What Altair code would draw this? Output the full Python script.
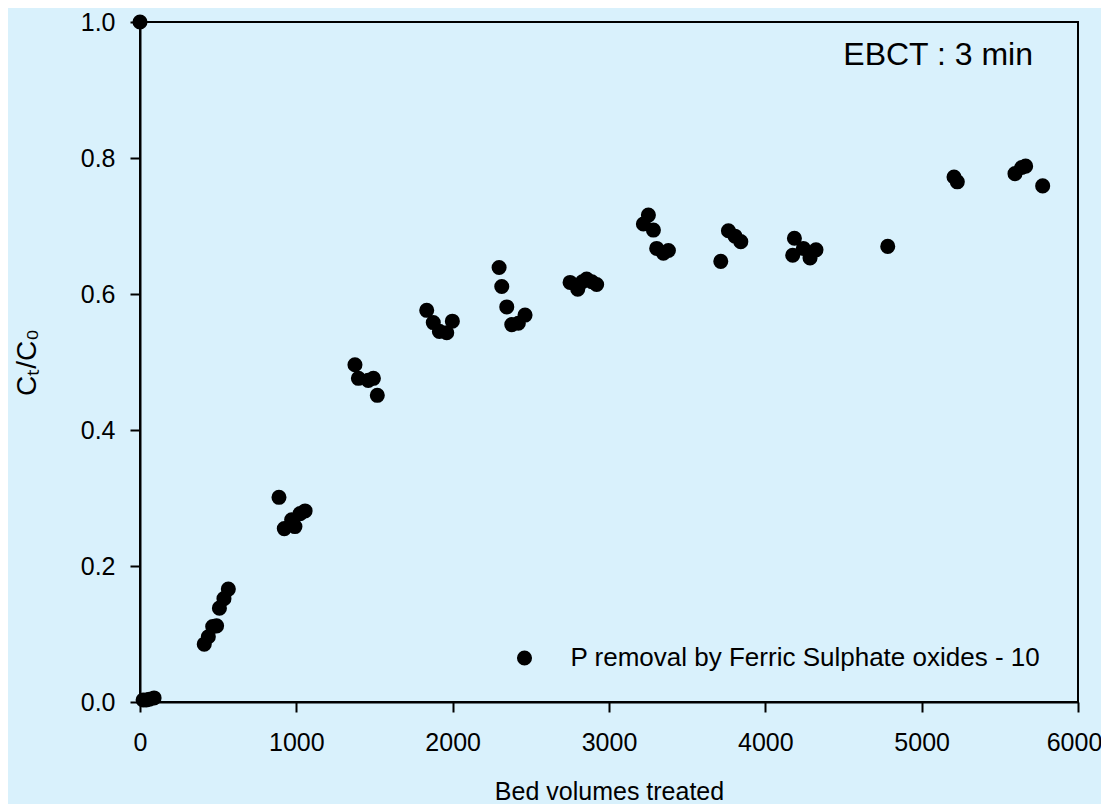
import altair as alt
import pandas as pd

bed_volumes = [0, 20, 40, 60, 90,
               411, 437, 465, 490, 508, 537, 565,
               889, 923, 970, 991, 1024, 1056,
               1375, 1397, 1460, 1493, 1518,
               1834, 1876, 1915, 1962, 1998,
               2297, 2314, 2346, 2378, 2420, 2463,
               2751, 2800, 2830, 2857, 2890, 2921,
               3220, 3252, 3284, 3305, 3348, 3380,
               3715, 3764, 3806, 3843,
               4175, 4186, 4243, 4286, 4324,
               4783,
               5207, 5228, 5597, 5640, 5665, 5774]
ct_c0 = [1.0, 0.003, 0.003, 0.004, 0.006,
         0.085, 0.096, 0.111, 0.112, 0.138, 0.152, 0.166,
         0.301, 0.255, 0.268, 0.258, 0.277, 0.281,
         0.496, 0.476, 0.473, 0.476, 0.451,
         0.576, 0.558, 0.545, 0.543, 0.560,
         0.639, 0.611, 0.581, 0.555, 0.557, 0.569,
         0.617, 0.607, 0.618, 0.622, 0.618, 0.614,
         0.703, 0.716, 0.694, 0.667, 0.660, 0.664,
         0.648, 0.693, 0.685, 0.677,
         0.657, 0.682, 0.667, 0.653, 0.665,
         0.670,
         0.772, 0.765, 0.777, 0.786, 0.788, 0.759]
series_name = "P removal by Ferric Sulphate oxides - 10"

x_ticks = [0, 1000, 2000, 3000, 4000, 5000, 6000]
y_ticks = [0.0, 0.2, 0.4, 0.6, 0.8, 1.0]

annot_text = ["EBCT : 3 min"]
annot_x = [5712]
annot_y = [0.951]

df = pd.DataFrame({"bv": bed_volumes, "c": ct_c0, "series": [series_name] * len(bed_volumes)})
ann = pd.DataFrame({"t": annot_text, "x": annot_x, "y": annot_y})

FONT = "Liberation Sans"
BG = "#D9F1FC"

x_scale = alt.Scale(domain=[0, 6000], nice=False, zero=False)
y_scale = alt.Scale(domain=[0, 1.0], nice=False, zero=False)

points = alt.Chart(df).mark_point(filled=True, size=227, opacity=1, shape="circle", clip=False).encode(
    x=alt.X("bv:Q", scale=x_scale,
            axis=alt.Axis(title="Bed volumes treated", values=x_ticks, format="d",
                          titleFontSize=25, titleFontWeight="normal", titleY=97,
                          titleBaseline="alphabetic",
                          labelPadding=18, labelFlush=False, grid=False,
                          labelOffset={"condition": {"test": "datum.value == 6000", "value": -4}, "value": 0})),
    y=alt.Y("c:Q", scale=y_scale,
            axis=alt.Axis(title="Cₜ/C₀", values=y_ticks, format=".1f",
                          titleFontSize=28, titleFontWeight="normal", titleX=-105,
                          titleBaseline="alphabetic", labelPadding=15, labelFlush=False,
                          grid=False)),
    color=alt.Color("series:N",
                    scale=alt.Scale(domain=[series_name], range=["black"]),
                    legend=alt.Legend(title=None, orient="none", legendX=371.5, legendY=623,
                                      labelFontSize=26, labelFont=FONT, symbolSize=227,
                                      symbolType="circle", symbolFillColor="black",
                                      symbolStrokeWidth=0, labelOffset=33, padding=0,
                                      labelLimit=800, labelColor="black")),
)

text = alt.Chart(ann).mark_text(align="right", baseline="middle", fontSize=32, font=FONT, color="black").encode(
    x=alt.X("x:Q", scale=x_scale),
    y=alt.Y("y:Q", scale=y_scale),
    text="t:N",
)

chart = alt.layer(points, text).properties(
    width=938, height=680,
    background=BG,
    padding={"left": 132, "top": 14, "right": 23, "bottom": 102},
    autosize=alt.AutoSizeParams(type="none"),
).configure_view(
    stroke="black", strokeWidth=2, fill=BG
).configure_axis(
    domainColor="black", domainWidth=2, tickColor="black", tickWidth=2, tickSize=10,
    labelFont=FONT, titleFont=FONT, labelFontSize=25, labelColor="black", titleColor="black",
)

chart.save("out.html", embed_options={"renderer": "svg", "actions": False})
